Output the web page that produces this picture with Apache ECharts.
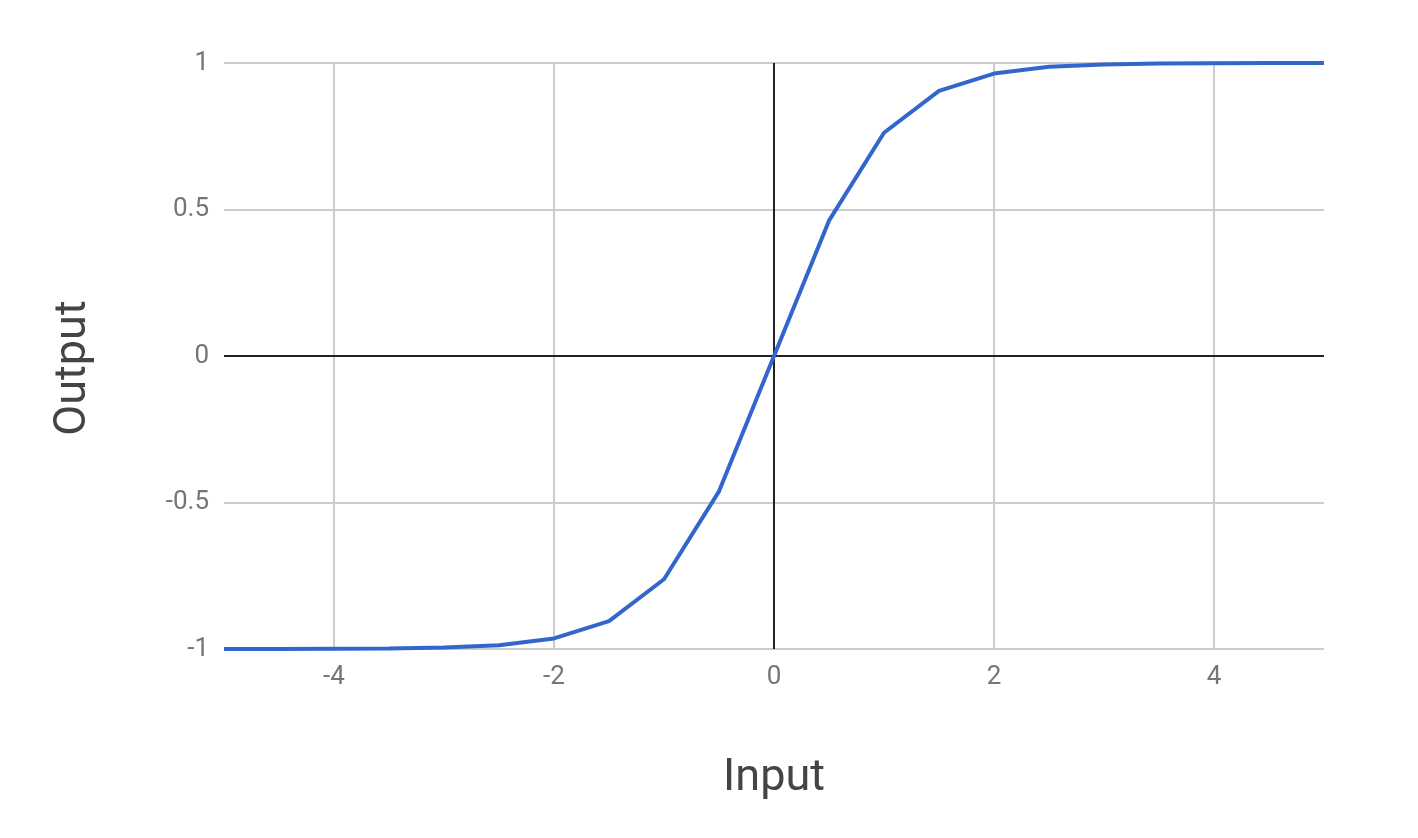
<!DOCTYPE html>
<html>
<head>
<meta charset="utf-8">
<script src="https://cdn.jsdelivr.net/npm/echarts@6/dist/echarts.min.js"></script>
<style>html,body{margin:0;padding:0;background:#fff}#c{width:1418px;height:838px}</style>
</head>
<body>
<div id="c"></div>
<script>
var xValues = [-5, -4.5, -4, -3.5, -3, -2.5, -2, -1.5, -1, -0.5, 0, 0.5, 1, 1.5, 2, 2.5, 3, 3.5, 4, 4.5, 5];
var yValues = [-1, -1, -0.999, -0.998, -0.995, -0.987, -0.964, -0.905, -0.762, -0.462, 0, 0.462, 0.762, 0.905, 0.964, 0.987, 0.995, 0.998, 0.999, 1, 1];
var xTickLabels = [-4, -2, 0, 2, 4];
var yTickLabels = [-1, -0.5, 0, 0.5, 1];

var chart = echarts.init(document.getElementById('c'));
var font = 'Roboto';
chart.setOption({
  animation: false,
  grid: {left: 224, right: 94, top: 63, bottom: 189},
  xAxis: {
    type: 'value', min: -5, max: 5, interval: 1,
    name: 'Input', nameLocation: 'middle', nameGap: 107,
    nameTextStyle: {fontFamily: font, fontSize: 45, color: '#444'},
    axisLine: {show: false}, axisTick: {show: false},
    axisLabel: {
      fontFamily: font, fontSize: 26, color: '#757575', margin: 15,
      formatter: function (v) { return xTickLabels.indexOf(v) >= 0 ? String(v) : ''; }
    },
    splitLine: {show: true, lineStyle: {color: ['rgba(0,0,0,0)', '#cccccc'], width: 2}}
  },
  yAxis: {
    type: 'value', min: -1, max: 1, interval: 0.5,
    name: 'Output', nameLocation: 'middle', nameGap: 128,
    nameTextStyle: {fontFamily: font, fontSize: 45, color: '#444', padding: [0, 24, 0, 0]},
    axisLine: {show: false}, axisTick: {show: false},
    axisLabel: {
      fontFamily: font, fontSize: 26, color: '#757575', margin: 15,
      formatter: function (v) { return yTickLabels.indexOf(v) >= 0 ? String(v) : ''; }
    },
    splitLine: {show: true, lineStyle: {color: '#cccccc', width: 2}}
  },
  series: [{
    type: 'line',
    data: xValues.map(function (x, i) { return [x, yValues[i]]; }),
    showSymbol: false, symbol: 'none',
    lineStyle: {color: '#3366cc', width: 4},
    z: 5,
    markLine: {
      silent: true, symbol: 'none', label: {show: false},
      lineStyle: {color: '#222222', width: 2, type: 'solid'},
      data: [{xAxis: 0}, {yAxis: 0}],
      z: 3
    }
  }]
});
</script>
</body>
</html>
